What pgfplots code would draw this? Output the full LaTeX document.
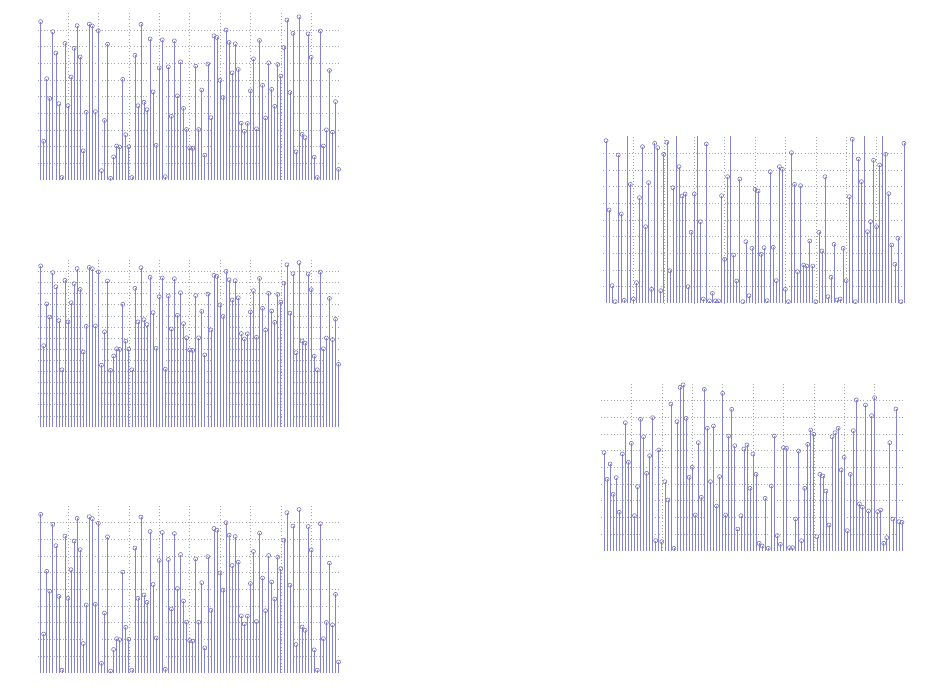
\documentclass[border=0pt]{standalone}
\usepackage{pgfplots}
\pgfplotsset{compat=1.18}
\usepackage{pgfplotstable}
\definecolor{stemc}{RGB}{132,132,210}
\definecolor{markc}{RGB}{118,118,195}

\pgfplotstableread{
x y
1 9.5
2 2.32
3 6.08
4 4.89
5 8.9
6 7.62
7 4.58
8 0.15
9 8.2
10 4.46
11 6.18
12 7.9
13 9.26
14 7.38
15 1.75
16 4.06
17 9.36
18 9.24
19 4.1
20 8.96
21 0.56
22 3.57
23 8.15
24 0.1
25 1.39
26 2.04
27 1.98
28 6.04
29 2.72
30 2.0
31 0.15
32 7.48
33 4.46
34 9.34
35 4.66
36 4.22
37 8.47
38 5.29
39 2.08
40 6.73
41 8.41
42 0.2
43 6.79
44 3.82
45 8.35
46 5.05
47 7.09
48 4.3
49 3.03
50 1.93
51 1.89
52 6.83
53 3.03
54 5.4
55 1.49
56 6.96
57 3.74
58 8.65
59 8.55
60 5.98
61 4.95
62 9.0
63 8.25
64 6.43
65 8.17
66 6.63
67 3.41
68 2.92
69 3.39
70 5.35
71 7.27
72 3.07
73 8.37
74 5.68
75 3.72
76 7.03
77 5.44
78 4.42
79 6.93
80 6.24
81 7.95
82 9.6
83 5.25
84 8.8
85 1.69
86 9.79
87 2.74
88 2.54
89 8.77
90 7.36
91 1.37
92 0.15
93 8.94
94 2.04
95 3.01
96 6.57
97 2.87
98 4.7
99 0.64
}\dataA

\pgfplotstableread{
x y
1 9.76
2 5.6
3 1.06
4 0.1
5 8.9
6 5.36
7 0.18
8 10.1
9 7.14
10 0.26
11 1.24
12 6.34
13 9.4
14 4.6
15 7.24
16 0.84
17 9.6
18 9.34
19 0.76
20 8.94
21 9.66
22 1.96
23 6.94
24 10.1
25 8.2
26 6.44
27 6.56
28 1.0
29 4.26
30 6.56
31 10.1
32 4.9
33 0.26
34 9.56
35 0.15
36 0.6
37 0.15
38 0.15
39 6.46
40 2.64
41 7.6
42 10.1
43 2.9
44 1.34
45 7.46
46 0.1
47 3.7
48 0.46
49 3.3
50 6.84
51 6.74
52 2.94
53 3.34
54 0.16
55 7.9
56 3.36
57 1.36
58 8.2
59 8.04
60 0.84
61 0.1
62 9.04
63 7.14
64 1.9
65 7.06
66 2.3
67 2.24
68 3.74
69 2.24
70 0.1
71 4.26
72 3.14
73 7.6
74 0.4
75 1.56
76 3.54
77 0.2
78 0.26
79 3.3
80 1.36
81 6.4
82 9.84
83 0.1
84 8.66
85 7.3
86 10.1
87 4.3
88 4.9
89 8.58
90 4.6
91 8.3
92 10.1
93 8.94
94 6.58
95 3.5
96 2.34
97 3.9
98 0.1
99 9.6
}\dataB

\pgfplotstableread{
x y
1 5.88
2 4.28
3 5.2
4 3.38
5 4.38
6 2.3
7 5.8
8 7.68
9 5.3
10 6.44
11 2.1
12 3.84
13 7.88
14 6.84
15 4.64
16 5.7
17 7.98
18 0.6
19 6.04
20 0.54
21 4.14
22 3.04
23 8.8
24 0.14
25 7.74
26 9.8
27 9.95
28 7.94
29 4.4
30 5.0
31 2.14
32 6.48
33 3.2
34 9.68
35 7.34
36 4.14
37 7.48
38 2.68
39 4.44
40 9.44
41 2.14
42 6.88
43 8.48
44 6.3
45 1.3
46 2.1
47 6.1
48 6.34
49 3.74
50 5.8
51 4.58
52 0.44
53 0.28
54 3.14
55 0.14
56 3.88
57 6.88
58 0.9
59 0.38
60 6.18
61 6.14
62 0.18
63 0.18
64 1.9
65 5.98
66 0.6
67 3.74
68 6.38
69 7.24
70 6.98
71 0.84
72 4.58
73 4.48
74 3.58
75 1.54
76 6.84
77 7.08
78 7.34
79 4.84
80 5.6
81 1.2
82 4.58
83 7.2
84 9.04
85 2.8
86 2.6
87 8.74
88 2.38
89 8.1
90 9.18
91 2.34
92 2.44
93 0.44
94 0.78
95 6.48
96 1.9
97 8.5
98 1.74
99 1.7
}\dataC

\pgfplotsset{
  stemax/.style={
    scale only axis, width=228pt, height=125pt, anchor=south west,
    xmin=0, xmax=100, xtick={10,20,...,90},
    xticklabels={}, yticklabels={},
    axis line style={draw=none},
    grid=major, grid style={dotted, gray!70, line width=0.45pt},
    major tick length=0pt,
  },
  stemplot/.style={
    only marks, mark=o, mark size=1.5pt,
    mark options={markc, line width=0.45pt},
    error bars/.cd, y dir=minus, y explicit, error mark=none,
    error bar style={stemc, line width=0.5pt},
  },
}

\begin{document}
\begin{tikzpicture}
\path[use as bounding box] (0,0) rectangle (712.5pt,517.5pt);

% panel 1
\begin{axis}[stemax, at={(28.2pt,382.5pt)}, ymin=0, ymax=10, ytick={1,2,...,9}]
\addplot[stemplot] table[x=x, y=y, y error expr=\thisrow{y}] {\dataA};
\end{axis}

% panel 2
\begin{axis}[stemax, at={(28.2pt,197.25pt)}, ymin=-5, ymax=10, ytick={-4,-3,...,9}]
\addplot[stemplot] table[x=x, y=y, y error expr=\thisrow{y}+5] {\dataA};
\end{axis}

% panel 3
\begin{axis}[stemax, at={(28.2pt,13pt)}, ymin=0, ymax=10, ytick={1,2,...,9}]
\addplot[stemplot] table[x=x, y=y, y error expr=\thisrow{y}] {\dataA};
\end{axis}

% panel 4
\begin{axis}[stemax, at={(452.25pt,290pt)}, ymin=0, ymax=10, ytick={1,2,...,9}]
\addplot[stemplot] table[x=x, y=y, y error expr=\thisrow{y}] {\dataB};
\end{axis}

% panel 5
\begin{axis}[stemax, at={(450.75pt,104.5pt)}, ymin=0, ymax=10, ytick={1,2,...,9}]
\addplot[stemplot] table[x=x, y=y, y error expr=\thisrow{y}] {\dataC};
\end{axis}
\end{tikzpicture}
\end{document}
